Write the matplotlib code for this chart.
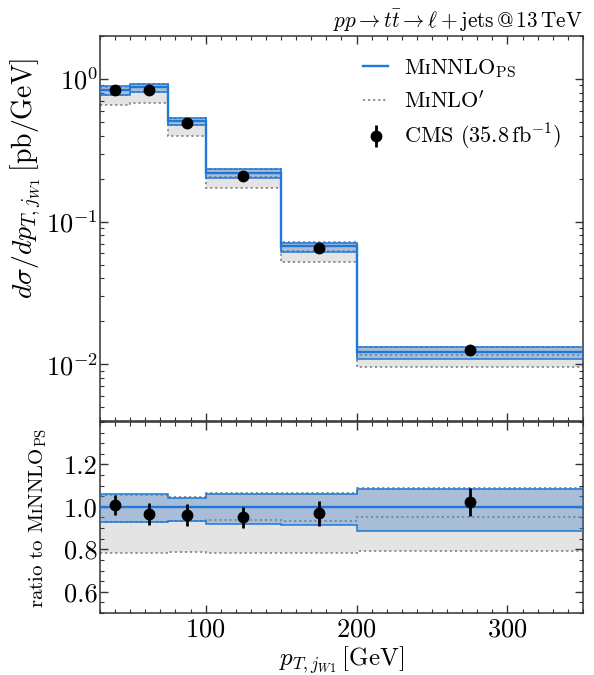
import numpy as np
import matplotlib
matplotlib.use("Agg")
from matplotlib import pyplot as plt
from matplotlib.ticker import MultipleLocator, FixedLocator, FormatStrFormatter
from matplotlib.lines import Line2D

# bins in p_T,jW1 [GeV]
edges = np.array([30, 50, 75, 100, 150, 200, 350])
centers = np.array([40, 62.5, 87.5, 125, 175, 275])

# MiNNLO_PS (central, scale band)
nnlo = np.array([0.836, 0.873, 0.510, 0.220, 0.0670, 0.01220])
nnlo_up = np.array([0.885, 0.927, 0.532, 0.233, 0.0709, 0.01325])
nnlo_dn = np.array([0.776, 0.810, 0.477, 0.2017, 0.0612, 0.01081])

# MiNLO'
nlo = np.array([0.775, 0.809, 0.476, 0.206, 0.0626, 0.01161])
nlo_up = np.array([0.884, 0.923, 0.534, 0.234, 0.0714, 0.01330])
nlo_dn = np.array([0.654, 0.683, 0.401, 0.172, 0.0523, 0.00964])

# CMS data
cms = np.array([0.842, 0.843, 0.490, 0.209, 0.0650, 0.01250])
cms_err = np.array([0.039, 0.045, 0.027, 0.011, 0.0039, 0.0008])

blue = "#1f78d8"
bluefill = "#4f86c6"
gray = "#8a8a8a"
grayfill = "#e4e4e4"

plt.rcParams["font.family"] = ["cmr10", "DejaVu Serif"]
plt.rcParams["mathtext.fontset"] = "cm"
plt.rcParams["axes.formatter.use_mathtext"] = True
plt.rcParams["axes.unicode_minus"] = False

# small-capital I for "MiNNLO"
sci = "$\\mathrm{\u026a}$"
minnlo = "M" + sci + "NNLO$_{\\mathrm{PS}}$"
minlo = "M" + sci + "NLO$'$"

fs = 19
fig = plt.figure(figsize=(5.94, 6.75), dpi=100)
ax = fig.add_axes([0.1684, 0.3763, 0.813, 0.5704])
rx = fig.add_axes([0.1684, 0.0919, 0.813, 0.283], sharex=ax)


def draw(a, norm):
    a.stairs(nlo_up / norm, edges, baseline=nlo_dn / norm, fill=True, color=grayfill, lw=0, zorder=1)
    for arr in (nlo_up, nlo, nlo_dn):
        a.stairs(arr / norm, edges, baseline=None, color=gray, ls=(0, (1.2, 1.6)), lw=1.3, zorder=2)
    a.stairs(nnlo_up / norm, edges, baseline=nnlo_dn / norm, fill=True, color=bluefill, alpha=0.4, lw=0, zorder=3)
    for arr in (nnlo_up, nnlo_dn):
        a.stairs(arr / norm, edges, baseline=None, color=blue, lw=1.1, zorder=4)
    a.stairs(nnlo / norm, edges, baseline=None, color=blue, lw=1.7, zorder=5)
    a.errorbar(centers, cms / norm, yerr=cms_err / norm, fmt="o", color="black",
               ms=7.5, elinewidth=2.0, capsize=0, zorder=6)


draw(ax, 1.0)
draw(rx, nnlo)

ax.set_yscale("log")
ax.set_ylim(0.004, 2.0)
ax.set_xlim(30, 350)
rx.set_ylim(0.5, 1.4)
rx.yaxis.set_major_locator(FixedLocator([0.6, 0.8, 1.0, 1.2]))
rx.yaxis.set_minor_locator(MultipleLocator(0.05))
rx.xaxis.set_major_locator(MultipleLocator(100))
rx.xaxis.set_minor_locator(MultipleLocator(10))
rx.yaxis.set_major_formatter(FormatStrFormatter("%.1f"))

for a in (ax, rx):
    a.tick_params(which="both", direction="in", top=True, right=True, labelsize=fs, color="#333333")
    a.tick_params(which="major", length=6, width=1.0)
    a.tick_params(which="minor", length=3, width=0.8)
    a.tick_params(axis="y", which="major", pad=1.5)
    for s in a.spines.values():
        s.set_color("#333333")
        s.set_linewidth(1.1)
ax.tick_params(labelbottom=False)

ax.set_ylabel(r"$d\sigma/dp_{T,j_{W1}}\,[\mathrm{pb/GeV}]$", fontsize=20)
ax.yaxis.set_label_coords(-0.118, 0.63)
rx.set_ylabel("ratio to " + minnlo, fontsize=15)
rx.yaxis.set_label_coords(-0.105, 0.5)
rx.set_xlabel(r"$p_{T,j_{W1}}\,[\mathrm{GeV}]$", fontsize=18, labelpad=2)
ax.set_title(r"$pp\to t\bar{t}\to \ell+\mathrm{jets}\,@\,13\,\mathrm{TeV}$", loc="right", fontsize=15.3, pad=6)

handles = [
    Line2D([], [], color=blue, lw=1.7),
    Line2D([], [], color=gray, ls=(0, (1.2, 1.6)), lw=1.3),
    plt.errorbar([], [], yerr=[], fmt="o", color="black", ms=7.5, elinewidth=2.0, capsize=0),
]
labels = [minnlo, minlo, r"CMS $(35.8\,\mathrm{fb}^{-1})$"]
ax.legend(handles, labels, loc="upper right", frameon=False, fontsize=16,
          handlelength=1.1, handletextpad=0.75, labelspacing=0.47, borderaxespad=0.55)

fig.savefig("out.png", dpi=100)
